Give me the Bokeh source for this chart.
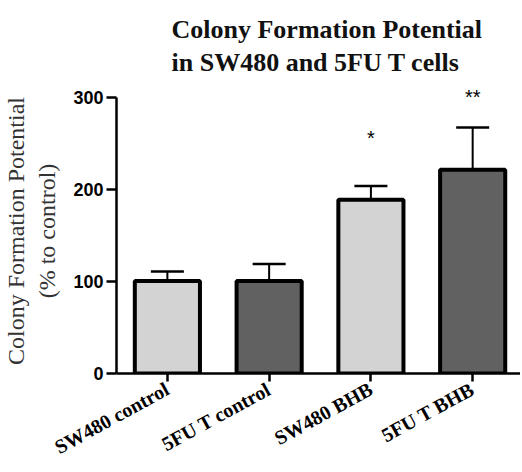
from bokeh.plotting import figure
from bokeh.models import (ColumnDataSource, Range1d, FixedTicker, Whisker, TeeHead, Title)
from bokeh.core.properties import value
from bokeh.embed import file_html
from bokeh.resources import INLINE

categories = ["SW480 control", "5FU T control", "SW480 BHB", "5FU T BHB"]
means = [100.5, 100.5, 189.0, 221.5]
errors_upper = [111.0, 119.0, 204.0, 267.5]
fills = ["#d3d3d3", "#616161", "#d3d3d3", "#616161"]
sig_labels = ["*", "**"]
sig_x = [2, 3]
sig_y = [256, 301]
y_ticks = [0, 100, 200, 300]
title_text = "Colony Formation Potential\nin SW480 and 5FU T cells"

xs = list(range(len(categories)))
src = ColumnDataSource(dict(x=xs, top=means, upper=errors_upper, lower=means, fill=fills))

p = figure(width=520, height=470, output_backend="svg", toolbar_location=None,
           x_range=Range1d(-0.5, 3.47), y_range=Range1d(0, 310),
           min_border_left=113, min_border_right=0, min_border_top=88, min_border_bottom=96)
p.outline_line_color = None
p.xgrid.grid_line_color = None
p.ygrid.grid_line_color = None

p.add_layout(Title(text=title_text, align="left", vertical_align="top",
                   text_font="Liberation Serif", text_line_height=1.15,
                   text_font_size="26px", text_font_style="bold", text_color="#111111",
                   standoff=20, offset=55), "above")

p.vbar(x="x", top="top", bottom=0, width=0.64, source=src, fill_color="fill",
       line_color="black", line_width=4)

wh = Whisker(base="x", upper="upper", lower="lower", source=src,
             upper_head=TeeHead(size=33, line_width=2.5, line_color="black"),
             lower_head=None, line_width=2, line_color="black")
p.add_layout(wh)

p.text(x=sig_x, y=sig_y, text=sig_labels, text_align="center", text_baseline="alphabetic",
       text_font=value("Liberation Sans"), text_font_size="20px", text_color="black")

# y axis
yax = p.yaxis[0]
yax.ticker = FixedTicker(ticks=y_ticks)
yax.bounds = (0, 300)
yax.axis_line_width = 2.5
yax.major_tick_line_width = 2.5
yax.major_tick_out = 10
yax.major_tick_in = 0
yax.minor_tick_line_color = None
yax.major_label_text_font = "Liberation Sans"
yax.major_label_text_font_style = "bold"
yax.major_label_text_font_size = "18px"
yax.major_label_text_color = "black"
yax.major_label_standoff = 3
yax.axis_label = "Colony Formation Potential\n(% to control)"
yax.axis_label_text_font = "Liberation Serif"
yax.axis_label_text_font_style = "normal"
yax.axis_label_text_font_size = "24px"
yax.axis_label_text_color = "#333333"
yax.axis_label_standoff = 10

# x axis
xax = p.xaxis[0]
xax.ticker = FixedTicker(ticks=xs)
xax.major_label_overrides = {i: c for i, c in zip(xs, categories)}
xax.axis_line_width = 2.5
xax.major_tick_line_width = 2.5
xax.major_tick_out = 8
xax.major_tick_in = 0
xax.minor_tick_line_color = None
xax.major_label_orientation = 0.5
xax.major_label_text_font = "Liberation Serif"
xax.major_label_text_font_style = "bold"
xax.major_label_text_font_size = "20px"
xax.major_label_text_color = "black"
xax.major_label_standoff = 6

open("out.html", "w").write(file_html(p, INLINE))
